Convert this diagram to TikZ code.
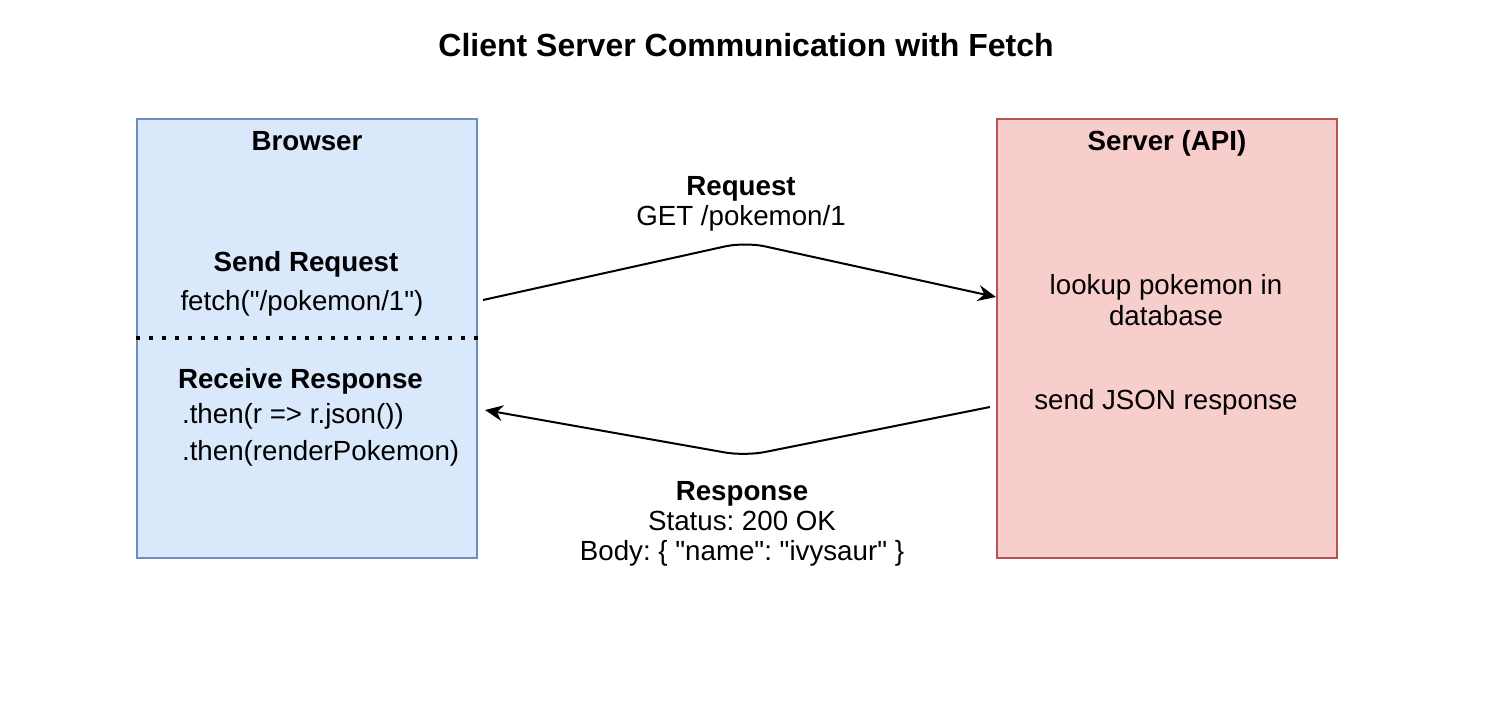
\documentclass[tikz,border=0pt]{standalone}
\usepackage{fontspec}
\setmainfont{Liberation Sans}[Ligatures=TeXOff]
\usetikzlibrary{arrows.meta, positioning}
\definecolor{browserfill}{HTML}{DAE8FC}
\definecolor{browserline}{HTML}{6C8EBF}
\definecolor{serverfill}{HTML}{F8CECC}
\definecolor{serverline}{HTML}{B85450}
\tikzset{
		side box/.style={draw, line width=1pt, minimum width=170pt, minimum height=219.5pt},
		box title/.style={anchor=base, font=\fontsize{13.85}{15}\selectfont\bfseries},
		box text/.style={anchor=base},
		msg text/.style={align=center},
		msg line/.style={->, line width=1pt, rounded corners=10pt}
	}

\begin{document}
\frenchspacing
\begin{tikzpicture}[x=0.5pt, y=-0.5pt, >={Stealth[length=9pt, width=8pt, inset=3pt]},
		font=\fontsize{13.85}{15}\selectfont, node distance = 259pt]
				\useasboundingbox (0,0) rectangle (1496,718);
				\node[font=\fontsize{16}{19}\selectfont\bfseries] (title) at (746,45) {Client Server Communication with Fetch};

				\node[side box, fill=browserfill, draw=browserline] (browser) at (307,338.5) {};
				\node[side box, fill=serverfill, draw=serverline]   (server) [right = of browser] {};

				\node[box title] (browser title) at (307,150)  {Browser};
				\node[box title] (server title)  at (1167,150) {Server (API)};

				\draw[line width=2pt, dash pattern=on 2pt off 4.5pt] (browser.west |- 0,338) -- (browser.east |- 0,338);

				\node[box title] (send)    at (306,271) {Send Request};
				\node[box text]  (fetch)   at (302,310) {fetch("/pokemon/1")};
				\node[box title] (receive) at (300.5,388) {Receive Response};
				\node[box text, anchor=base west] (then json)   at (175,423) {.then(r => r.json())};
				\node[box text, anchor=base west] (then render) at (175,460) {.then(renderPokemon)};

				\node[box text] (lookup)   at (1166,294) {lookup pokemon in};
				\node[box text] (database) at (1166,325) {database};
				\node[box text] (reply)    at (1166,409) {send JSON response};

				\coordinate (req start) at (483,300);
				\coordinate (req top)   at (745,242);
				\coordinate (res start) at (990,407);
				\coordinate (res low)   at (745,456);
				\coordinate (res end)   at (485,410);

				\path[msg line] (req start) edge[to path={-- (req top) -- (\tikztotarget)}] (server.west |- 0,297);
				\path[msg line] (res start) edge[to path={-- (res low) -- (\tikztotarget)}] (res end);

				\node[msg text] (request)  at (741,204) {\textbf{Request}\\GET /pokemon/1};
				\node[msg text] (response) at (742,524) {\textbf{Response}\\Status: 200 OK\\Body: \{ "name": "ivysaur" \}};
			\end{tikzpicture}
\end{document}
